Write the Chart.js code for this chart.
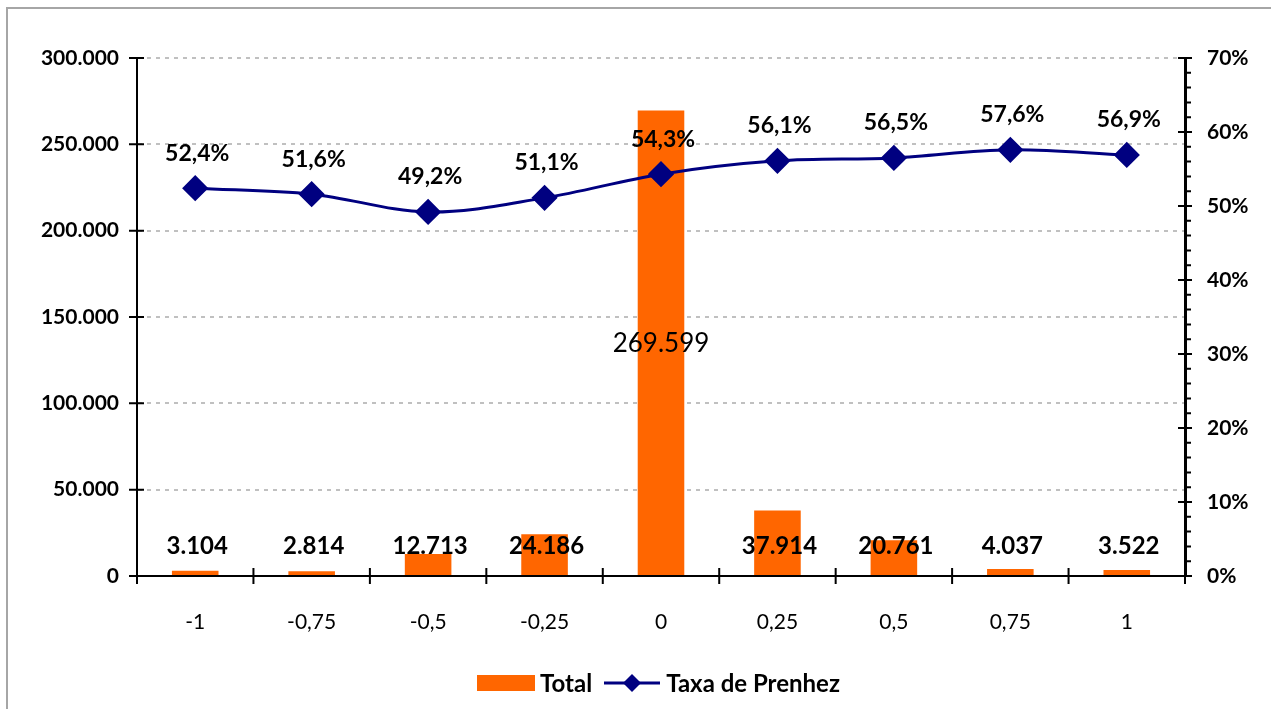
<!DOCTYPE html>
<html lang="pt">
  <head>
    <meta charset="UTF-8" />
    <title>Taxa de Prenhez</title>
    <style>
      body { margin: 0; background: #fff; font-family: Lato, sans-serif; }
      .wrap { position: relative; width: 1271px; height: 709px; }
      .frame { position: absolute; left: 6px; top: 7px; width: 1280px; height: 720px;
               border-left: 2px solid #a6a6a6; border-top: 2px solid #a6a6a6; pointer-events: none; }
      #legend { position: absolute; left: 0; width: 1271px; top: 668px; display: flex;
                justify-content: center; align-items: center; font: bold 24px Lato, sans-serif; color: #000;
                padding-left: 46px; box-sizing: border-box; }
      #legend .box { display: inline-block; width: 58px; height: 16px; background: #ff6600; margin-right: 5px; }
      #legend svg { margin: 0 6px 0 12px; }
    </style>
  </head>
  <body>
    <div class="wrap">
      <canvas id="graphic" width="1271" height="709"></canvas>
      <div class="frame"></div>
      <div id="legend">
        <span class="box"></span><span>Total</span>
        <svg width="56" height="24"><line x1="0" y1="12" x2="56" y2="12" stroke="#000080" stroke-width="3"/><polygon points="28,3 37,12 28,21 19,12" fill="#000080"/></svg>
        <span>Taxa de Prenhez</span>
      </div>
    </div>
    <script src="https://cdn.jsdelivr.net/npm/chart.js"></script>
    <script>
      const categorias = ["-1", "-0,75", "-0,5", "-0,25", "0", "0,25", "0,5", "0,75", "1"];
      const totais = [3104, 2814, 12713, 24186, 269599, 37914, 20761, 4037, 3522];
      const taxa = [0.524, 0.516, 0.492, 0.511, 0.543, 0.561, 0.565, 0.576, 0.569];

      const milhar = (v) => String(Math.round(v)).replace(/\B(?=(\d{3})+(?!\d))/g, ".");
      const pct = (v, d) => (v * 100).toFixed(d).replace(".", ",") + "%";

      // rotulos e marcas dos eixos no estilo do Excel
      const extras = {
        id: "extras",
        afterDatasetsDraw(chart) {
          const ctx = chart.ctx;
          const y = chart.scales.y, y1 = chart.scales.y1;
          const area = chart.chartArea;
          ctx.save();
          ctx.strokeStyle = "#000";
          ctx.lineWidth = 2;
          ctx.beginPath();
          // eixo esquerdo
          for (let v = 0; v <= 300000; v += 50000) {
            const p = y.getPixelForValue(v);
            ctx.moveTo(area.left - 8, p); ctx.lineTo(area.left + 7, p);
          }
          // eixo direito
          for (let v = 0; v <= 70; v += 2) {
            const p = y1.getPixelForValue(v / 100);
            if (v % 10 === 0) { ctx.moveTo(area.right - 7, p); ctx.lineTo(area.right + 7, p); }
            else { ctx.moveTo(area.right, p); ctx.lineTo(area.right + 6, p); }
          }
          // eixo x
          for (let i = 0; i <= categorias.length; i++) {
            const p = area.left + (area.right - area.left) * i / categorias.length;
            ctx.moveTo(p, area.bottom - 8); ctx.lineTo(p, area.bottom + 8);
          }
          ctx.stroke();

          ctx.fillStyle = "#000";
          ctx.textAlign = "center";
          ctx.textBaseline = "middle";
          const barras = chart.getDatasetMeta(0).data;
          barras.forEach((bar, i) => {
            if (totais[i] > 100000) {
              ctx.font = "26px Lato, sans-serif";
              ctx.fillText(milhar(totais[i]), bar.x, y.getPixelForValue(totais[i] / 2));
            } else {
              ctx.font = "bold 24px Lato, sans-serif";
              ctx.fillText(milhar(totais[i]), bar.x + 2, y.getPixelForValue(17000));
            }
          });
          ctx.font = "bold 23px Lato, sans-serif";
          chart.getDatasetMeta(1).data.forEach((pt, i) => {
            ctx.fillText(pct(taxa[i], 1), pt.x + 2, pt.y - 35);
          });
          ctx.restore();
        },
      };

      const lienzo = document.getElementById("graphic");
      new Chart(lienzo, {
        data: {
          labels: categorias,
          datasets: [
            {
              type: "bar",
              label: "Total",
              data: totais,
              backgroundColor: "#ff6600",
              barPercentage: 0.4,
              categoryPercentage: 1,
              yAxisID: "y",
              order: 1,
            },
            {
              type: "line",
              label: "Taxa de Prenhez",
              data: taxa,
              borderColor: "#000080",
              backgroundColor: "#000080",
              borderWidth: 3,
              pointStyle: "rectRot",
              pointRadius: 11,
              pointHoverRadius: 11,
              tension: 0.35,
              yAxisID: "y1",
              order: 0,
            },
          ],
        },
        options: {
          responsive: false,
          animation: false,
          layout: { padding: { top: 58, left: 0, right: 0, bottom: 0 } },
          plugins: { legend: { display: false }, tooltip: { enabled: false } },
          scales: {
            x: {
              offset: true,
              grid: { display: false },
              border: { color: "#000", width: 2 },
              ticks: { color: "#000", font: { family: "Lato", size: 21 }, padding: 26 },
              afterFit(s) { s.height = 133; },
            },
            y: {
              position: "left",
              min: 0,
              max: 300000,
              ticks: { stepSize: 50000, color: "#000", font: { family: "Lato", size: 21, weight: "bold" },
                       padding: 18, callback: (v) => milhar(v) },
              grid: { color: (c) => (c.tick.value === 0 ? "rgba(0,0,0,0)" : "#c0c0c0"),
                      drawTicks: false, lineWidth: 2 },
              border: { color: "#000", width: 2, dash: [4, 5] },
              afterFit(s) { s.width = 137; },
            },
            y1: {
              position: "right",
              min: 0,
              max: 0.7,
              ticks: { stepSize: 0.1, color: "#000", font: { family: "Lato", size: 21, weight: "bold" },
                       padding: 22, callback: (v) => Math.round(v * 100) + "%" },
              grid: { drawOnChartArea: false, drawTicks: false },
              border: { color: "#000", width: 3 },
              afterFit(s) { s.width = 86; },
            },
          },
        },
        plugins: [extras],
      });
    </script>
  </body>
</html>
